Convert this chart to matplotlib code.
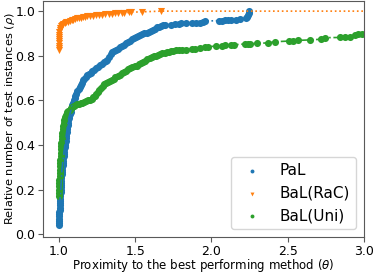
import numpy as np
import matplotlib.pyplot as plt

# performance profile data (theta, rho)
pal_theta = [1.000, 1.001, 1.001, 1.002, 1.002, 1.003, 1.003, 1.004, 1.004, 1.005,
             1.006, 1.006, 1.007, 1.008, 1.009, 1.010, 1.011, 1.012, 1.013, 1.014,
             1.015, 1.016, 1.016, 1.017, 1.018, 1.019, 1.021, 1.023, 1.024, 1.026,
             1.028, 1.030, 1.032, 1.033, 1.035, 1.037, 1.039, 1.041, 1.043, 1.045,
             1.047, 1.049, 1.051, 1.053, 1.055, 1.057, 1.059, 1.061, 1.064, 1.068,
             1.072, 1.076, 1.079, 1.083, 1.087, 1.092, 1.097, 1.102, 1.107, 1.113,
             1.120, 1.128, 1.136, 1.143, 1.150, 1.158, 1.166, 1.175, 1.185, 1.196,
             1.207, 1.218, 1.230, 1.242, 1.255, 1.268, 1.280, 1.292, 1.305, 1.318,
             1.330, 1.340, 1.350, 1.362, 1.375, 1.388, 1.401, 1.414, 1.428, 1.442,
             1.455, 1.468, 1.481, 1.494, 1.507, 1.520, 1.533, 1.546, 1.560, 1.574,
             1.588, 1.602, 1.615, 1.628, 1.642, 1.656, 1.670, 1.683, 1.695,
             1.735, 1.760, 1.785, 1.800, 1.835, 1.870, 1.900, 1.925, 1.945, 1.960,
             2.050, 2.070, 2.090, 2.110, 2.130, 2.160, 2.190,
             2.225, 2.232, 2.238, 2.243, 2.248]
pal_rho = [0.040, 0.050, 0.060, 0.070, 0.080, 0.090, 0.100, 0.110, 0.120, 0.130,
           0.140, 0.150, 0.160, 0.170, 0.180, 0.190, 0.200, 0.210, 0.220, 0.230,
           0.240, 0.250, 0.260, 0.270, 0.280, 0.290, 0.300, 0.310, 0.320, 0.330,
           0.340, 0.350, 0.360, 0.370, 0.380, 0.390, 0.400, 0.410, 0.420, 0.430,
           0.440, 0.450, 0.460, 0.470, 0.480, 0.490, 0.500, 0.510, 0.520, 0.530,
           0.540, 0.550, 0.560, 0.570, 0.580, 0.590, 0.600, 0.610, 0.620, 0.630,
           0.640, 0.650, 0.660, 0.670, 0.680, 0.690, 0.697, 0.705, 0.712, 0.719,
           0.725, 0.731, 0.737, 0.743, 0.750, 0.757, 0.763, 0.770, 0.776, 0.782,
           0.795, 0.808, 0.815, 0.820, 0.826, 0.832, 0.838, 0.843, 0.849, 0.856,
           0.862, 0.868, 0.874, 0.880, 0.885, 0.889, 0.893, 0.897, 0.900, 0.903,
           0.906, 0.909, 0.915, 0.921, 0.927, 0.931, 0.934, 0.937, 0.938,
           0.940, 0.942, 0.944, 0.945, 0.946, 0.946, 0.948, 0.949, 0.953, 0.956,
           0.957, 0.958, 0.959, 0.960, 0.961, 0.962, 0.963,
           0.968, 0.975, 0.983, 0.991, 1.000]

rac_theta = [1.000, 1.000, 1.000, 1.000, 1.001, 1.001, 1.001, 1.002, 1.003, 1.005,
             1.008, 1.013, 1.020, 1.028, 1.037, 1.047, 1.058, 1.070, 1.082, 1.094,
             1.106, 1.118, 1.130, 1.142, 1.155, 1.170, 1.185, 1.200, 1.220, 1.240,
             1.260, 1.285, 1.300, 1.330, 1.345, 1.370, 1.385, 1.410, 1.425, 1.460,
             1.475, 1.545, 1.670, 3.500]
rac_rho = [0.826, 0.835, 0.845, 0.855, 0.865, 0.875, 0.885, 0.895, 0.905, 0.915,
           0.925, 0.932, 0.938, 0.943, 0.947, 0.950, 0.953, 0.956, 0.959, 0.962,
           0.965, 0.967, 0.969, 0.971, 0.973, 0.975, 0.977, 0.978, 0.979, 0.981,
           0.982, 0.984, 0.985, 0.987, 0.988, 0.990, 0.991, 0.992, 0.993, 0.994,
           0.995, 0.997, 1.000, 1.000]

uni_theta = [1.000, 1.001, 1.001, 1.002, 1.003, 1.003, 1.004, 1.005, 1.006, 1.007,
             1.008, 1.009, 1.010, 1.011, 1.012, 1.014, 1.016, 1.018, 1.020, 1.022,
             1.025, 1.027, 1.030, 1.034, 1.039, 1.045, 1.052, 1.060, 1.069, 1.078,
             1.088, 1.098, 1.108, 1.118, 1.130, 1.142, 1.154, 1.166, 1.178, 1.190,
             1.202, 1.214, 1.224, 1.234, 1.244, 1.254, 1.264, 1.275, 1.286, 1.298,
             1.310, 1.322, 1.334, 1.346, 1.358, 1.370, 1.384, 1.398, 1.412, 1.426,
             1.440, 1.454, 1.468, 1.482, 1.496, 1.510, 1.524, 1.538, 1.552, 1.566,
             1.580, 1.594, 1.608, 1.622, 1.636, 1.650, 1.664, 1.678, 1.692, 1.706,
             1.720, 1.735, 1.750, 1.765, 1.790, 1.805, 1.830,
             1.870, 1.890, 1.925, 1.960, 1.980, 2.030, 2.070, 2.090, 2.130, 2.150,
             2.220, 2.240, 2.250, 2.300, 2.370, 2.420, 2.510, 2.535, 2.570, 2.645,
             2.720, 2.745, 2.840, 2.875, 2.910, 2.940, 2.960, 2.990, 3.050, 3.120]
uni_rho = [0.170, 0.185, 0.200, 0.215, 0.230, 0.245, 0.260, 0.275, 0.290, 0.305,
           0.320, 0.335, 0.350, 0.365, 0.380, 0.395, 0.410, 0.425, 0.440, 0.455,
           0.470, 0.485, 0.500, 0.512, 0.524, 0.536, 0.546, 0.553, 0.559, 0.565,
           0.570, 0.575, 0.579, 0.582, 0.585, 0.588, 0.590, 0.593, 0.596, 0.600,
           0.604, 0.608, 0.613, 0.620, 0.628, 0.637, 0.646, 0.655, 0.664, 0.672,
           0.679, 0.683, 0.686, 0.692, 0.698, 0.704, 0.710, 0.715, 0.721, 0.727,
           0.733, 0.739, 0.744, 0.748, 0.752, 0.756, 0.761, 0.766, 0.772, 0.778,
           0.784, 0.789, 0.793, 0.797, 0.801, 0.805, 0.808, 0.811, 0.814, 0.816,
           0.818, 0.820, 0.822, 0.824, 0.826, 0.827, 0.828,
           0.829, 0.831, 0.836, 0.839, 0.840, 0.844, 0.845, 0.846, 0.848, 0.849,
           0.853, 0.853, 0.854, 0.855, 0.858, 0.863, 0.866, 0.867, 0.869, 0.871,
           0.874, 0.881, 0.882, 0.885, 0.886, 0.893, 0.896, 0.896, 0.898, 0.901]

fig = plt.figure(figsize=(3.74, 2.73), dpi=100)
ax = fig.add_axes([0.115, 0.132, 0.858, 0.864])

series = [
    (pal_theta, pal_rho, '#1f77b4', 'o', '-.', 'PaL'),
    (rac_theta, rac_rho, '#ff7f0e', 'v', ':', 'BaL(RaC)'),
    (uni_theta, uni_rho, '#2ca02c', 'o', '-.', 'BaL(Uni)'),
]
for th, rho, col, mk, ls, lab in series:
    ax.plot(th, rho, linestyle=ls, color=col, linewidth=1.2)
    ax.scatter(th, rho, s=26, marker=mk, color=col, linewidths=0, label=lab)

ax.set_xlim(0.895, 3.0)
ax.set_ylim(-0.012, 1.045)
ax.set_xticks([1.0, 1.5, 2.0, 2.5, 3.0])
ax.set_yticks([0.0, 0.2, 0.4, 0.6, 0.8, 1.0])
ax.tick_params(labelsize=9, color='0.35', length=3.5, width=0.8, pad=2)
for sp in ax.spines.values():
    sp.set_color('0.35')
    sp.set_linewidth(0.8)

ax.set_xlabel(r'Proximity to the best performing method ($\theta$)', fontsize=8.5)
ax.set_ylabel(r'Relative number of test instances ($\rho$)', fontsize=8.2)
ax.xaxis.set_label_coords(0.5, -0.087)
ax.yaxis.set_label_coords(-0.081, 0.5)
ax.legend(loc='lower right', fontsize=11, markerscale=0.55)

fig.savefig('out.png', dpi=100)
